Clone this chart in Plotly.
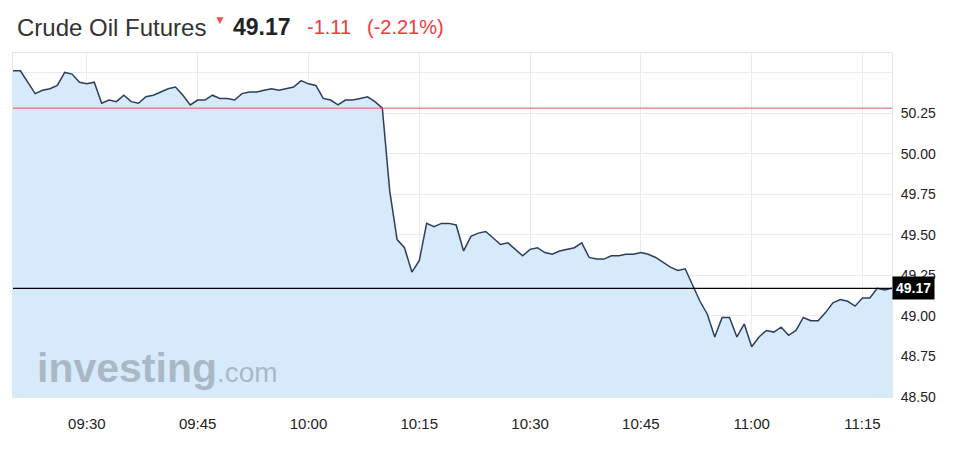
import plotly.graph_objects as go
import pandas as pd

# minutes after 09:20 and last price at that minute
minutes = [0, 1, 3, 4, 5, 6, 7, 8, 9, 10, 11, 12, 13, 14, 15, 16, 17, 18, 19, 20,
           21, 22, 23, 24, 25, 26, 27, 28, 29, 30, 31, 32, 33, 34, 35, 36, 37, 38, 39, 40,
           41, 42, 43, 44, 45, 46, 47, 48, 49, 50, 51, 52, 53, 54, 55, 56, 57, 58, 59, 60,
           61, 62, 63, 64, 65, 66, 67, 68, 69, 70, 71, 72, 73, 74, 75, 76, 77, 78, 79, 80,
           81, 82, 83, 84, 85, 86, 87, 88, 89, 90, 91, 92, 93, 94, 95, 96, 97, 98, 99, 100,
           101, 102, 103, 104, 105, 106, 107, 108, 109, 110, 111, 112, 113, 114, 115, 116,
           117, 118, 119]
prices = [50.51, 50.51, 50.37, 50.39, 50.40, 50.42, 50.50, 50.49, 50.44, 50.43, 50.44,
          50.31, 50.33, 50.32, 50.36, 50.32, 50.31, 50.35, 50.36, 50.38, 50.40, 50.41,
          50.36, 50.30, 50.33, 50.33, 50.36, 50.34, 50.34, 50.33, 50.37, 50.38, 50.38,
          50.39, 50.40, 50.39, 50.40, 50.41, 50.45, 50.43, 50.42, 50.34, 50.33, 50.30,
          50.33, 50.33, 50.34, 50.35, 50.32, 50.28, 49.77, 49.47, 49.42, 49.27, 49.34,
          49.57, 49.55, 49.57, 49.57, 49.56, 49.40, 49.49, 49.51, 49.52, 49.48, 49.44,
          49.45, 49.41, 49.37, 49.41, 49.42, 49.39, 49.38, 49.40, 49.41, 49.42, 49.45,
          49.36, 49.35, 49.35, 49.37, 49.37, 49.38, 49.38, 49.39, 49.38, 49.36, 49.33,
          49.30, 49.28, 49.29, 49.19, 49.09, 49.01, 48.87, 48.99, 48.99, 48.87, 48.95,
          48.81, 48.87, 48.91, 48.90, 48.93, 48.88, 48.91, 48.99, 48.97, 48.97, 49.02,
          49.08, 49.10, 49.09, 49.06, 49.11, 49.11, 49.17, 49.16, 49.17]

start = pd.Timestamp("2016-08-01 09:20")
times = [start + pd.Timedelta(minutes=m) for m in minutes]

last_price = 49.17
prev_close = 50.28
change = "-1.11"
change_pct = "(-2.21%)"
y_ticks = [48.50, 48.75, 49.00, 49.25, 49.50, 49.75, 50.00, 50.25, 50.50]
y_labels = ["48.50", "48.75", "49.00", "49.25", "49.50", "49.75", "50.00", "50.25", ""]

fig = go.Figure()
fig.add_trace(go.Scatter(
    x=times, y=prices, mode="lines", fill="tozeroy",
    fillcolor="#d7eafb", line=dict(color="#2c3e5f", width=1.5),
    hoverinfo="x+y", showlegend=False,
))

fig.add_hline(y=prev_close, line=dict(color="#e25a5a", width=1))
fig.add_hline(y=last_price, line=dict(color="#000000", width=1.2))

# the page body adds an 8px offset, so the figure is sized to fit
fig.update_layout(
    width=959, height=457,
    margin=dict(l=5, r=75, t=45, b=68),
    paper_bgcolor="white", plot_bgcolor="white",
    font=dict(family="Liberation Sans, Arial, sans-serif", color="#222"),
    xaxis=dict(
        range=[start, start + pd.Timedelta(minutes=119)],
        tickformat="%H:%M", dtick=15 * 60 * 1000,
        tick0="2016-08-01 09:30",
        showgrid=True, gridcolor="#e8ebf0", gridwidth=1,
        showline=True, linecolor="#e3e6eb", mirror=True,
        ticks="", ticklabelstandoff=13,
        tickfont=dict(size=15, family="Liberation Sans Narrow, Arial Narrow, Liberation Sans, Arial",
                      color="#222"),
        zeroline=False,
    ),
    yaxis=dict(
        range=[48.5, 50.62], side="right",
        tickvals=y_ticks, ticktext=y_labels,
        showgrid=True, gridcolor="#e8ebf0", gridwidth=1,
        showline=True, linecolor="#e3e6eb", mirror=True,
        ticks="", ticklabelstandoff=5,
        tickfont=dict(size=14, color="#222"),
        zeroline=False,
    ),
)

# header
hdr_y = 1.075
fig.add_annotation(text="Crude Oil Futures", xref="paper", yref="paper", x=0.0023, y=hdr_y,
                   xanchor="left", yanchor="middle", showarrow=False,
                   font=dict(size=24, color="#333"))
fig.add_annotation(text="▼", xref="paper", yref="paper", x=0.2265, y=1.097,
                   xanchor="left", yanchor="middle", showarrow=False,
                   font=dict(size=12, color="#f25555"))
fig.add_annotation(text="<b>%.2f</b>" % last_price, xref="paper", yref="paper", x=0.2480, y=hdr_y,
                   xanchor="left", yanchor="middle", showarrow=False,
                   font=dict(size=23, color="#222"))
fig.add_annotation(text=change, xref="paper", yref="paper", x=0.3325, y=hdr_y,
                   xanchor="left", yanchor="middle", showarrow=False,
                   font=dict(size=20, color="#f03a3a"))
fig.add_annotation(text=change_pct, xref="paper", yref="paper", x=0.4000, y=hdr_y,
                   xanchor="left", yanchor="middle", showarrow=False,
                   font=dict(size=20, color="#f03a3a"))

# last price badge
fig.add_annotation(text="<b>%.2f</b>" % last_price, xref="paper", yref="y", x=1.0, y=last_price,
                   xanchor="left", yanchor="middle", showarrow=False,
                   bgcolor="#000000", borderpad=3,
                   font=dict(size=14, color="white"))

# watermark
fig.add_annotation(text="<b>investing</b><span style='font-size:28px'>.com</span>",
                   xref="paper", yref="paper", x=0.025, y=0.085,
                   xanchor="left", yanchor="middle", showarrow=False,
                   font=dict(size=41, color="rgba(125,135,145,0.5)"))

fig.write_html("out.html")
